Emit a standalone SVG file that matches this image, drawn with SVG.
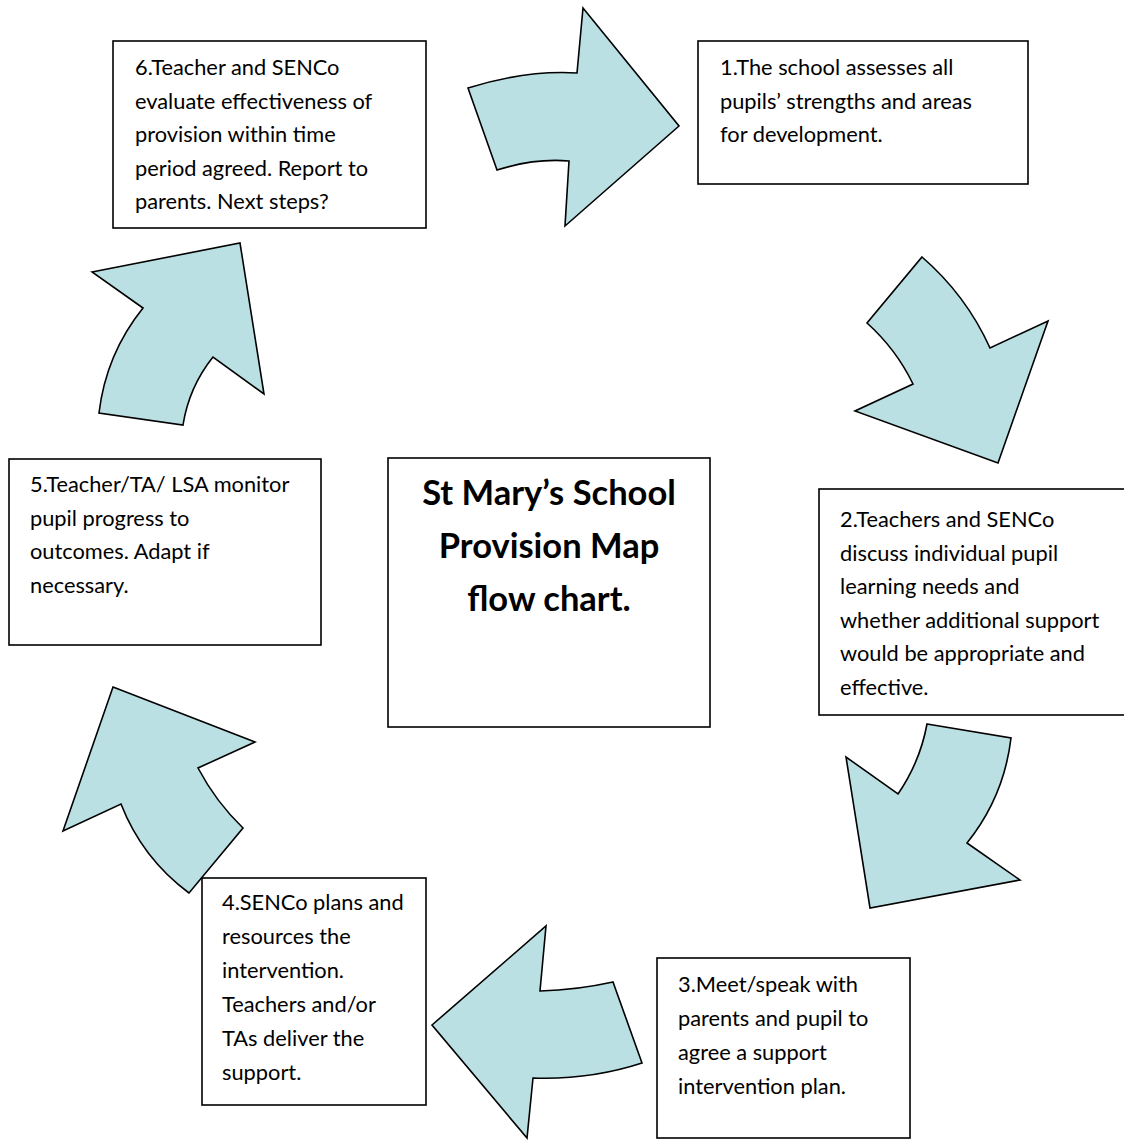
<svg xmlns="http://www.w3.org/2000/svg" width="1124" height="1140" viewBox="0 0 1124 1140">
<style>
.box{fill:#fff;stroke:#000;stroke-width:1.6}
.arr{fill:#BAE0E4;stroke:#000;stroke-width:1.6;stroke-linejoin:miter}
.t{font-family:Lato,"Open Sans",sans-serif;font-size:21.8px;fill:#000}
.title{font-family:Lato,"Open Sans",sans-serif;font-size:34.5px;font-weight:bold;fill:#000;text-anchor:middle}
</style>
<rect width="1124" height="1140" fill="#fff"/>
<g id="connectors">
<path class="arr" d="M468 88 Q525 70 577 73 L583 8 L679 126 L565 226 L569 161 Q535 158 497 170 Z"/>
<path class="arr" d="M922 257 Q966 295 990 348 L1048 321 L998 463 L855 411 L913 384 Q896 349 867 323 Z"/>
<path class="arr" d="M927 724 L1011 738 Q1004 797 967 843 L1020 880 L870 908 L846 757 L898 794 Q920 762 927 724 Z"/>
<path class="arr" d="M432 1025 L546 926 L540 991 Q577 990 613 982 L642 1063 Q590 1080 533 1078 L527 1138 Z"/>
<path class="arr" d="M113 687 L255 742 L198 768 Q216 802 243 828 L189 893 Q142 858 121 804 L63 831 Z"/>
<path class="arr" d="M92 272 L240 243 L264 394 L213 357 Q189 387 183 425 L99 413 Q106 354 143 308 Z"/>
</g>
<g id="node1">
<rect class="box" x="698" y="41" width="330" height="143"/>
<text class="t" x="720" y="75">1.The school assesses all</text>
<text class="t" x="720" y="108.5">pupils’ strengths and areas</text>
<text class="t" x="720" y="142">for development.</text>
</g>
<g id="node2">
<rect class="box" x="819" y="489" width="320" height="226"/>
<text class="t" x="840" y="527">2.Teachers and SENCo</text>
<text class="t" x="840" y="560.5">discuss individual pupil</text>
<text class="t" x="840" y="594">learning needs and</text>
<text class="t" x="840" y="627.5">whether additional support</text>
<text class="t" x="840" y="661">would be appropriate and</text>
<text class="t" x="840" y="694.5">effective.</text>
</g>
<g id="node3">
<rect class="box" x="657" y="958" width="253" height="180"/>
<text class="t" x="678" y="992">3.Meet/speak with</text>
<text class="t" x="678" y="1026">parents and pupil to</text>
<text class="t" x="678" y="1060">agree a support</text>
<text class="t" x="678" y="1094">intervention plan.</text>
</g>
<g id="node4">
<rect class="box" x="202" y="878" width="224" height="227"/>
<text class="t" x="222" y="910">4.SENCo plans and</text>
<text class="t" x="222" y="944">resources the</text>
<text class="t" x="222" y="978">intervention.</text>
<text class="t" x="222" y="1012">Teachers and/or</text>
<text class="t" x="222" y="1046">TAs deliver the</text>
<text class="t" x="222" y="1080">support.</text>
</g>
<g id="node5">
<rect class="box" x="9" y="459" width="312" height="186"/>
<text class="t" x="30" y="492">5.Teacher/TA/ LSA monitor</text>
<text class="t" x="30" y="526">pupil progress to</text>
<text class="t" x="30" y="559">outcomes. Adapt if</text>
<text class="t" x="30" y="593">necessary.</text>
</g>
<g id="node6">
<rect class="box" x="113" y="41" width="313" height="187"/>
<text class="t" x="135" y="75">6.Teacher and SENCo</text>
<text class="t" x="135" y="108.5">evaluate effectiveness of</text>
<text class="t" x="135" y="142">provision within time</text>
<text class="t" x="135" y="175.5">period agreed. Report to</text>
<text class="t" x="135" y="209">parents. Next steps?</text>
</g>
<g id="center">
<rect class="box" x="388" y="458" width="322" height="269"/>
<text class="title" x="549" y="505">St Mary’s School</text>
<text class="title" x="549" y="558">Provision Map</text>
<text class="title" x="549" y="611">flow chart.</text>
</g>
</svg>
